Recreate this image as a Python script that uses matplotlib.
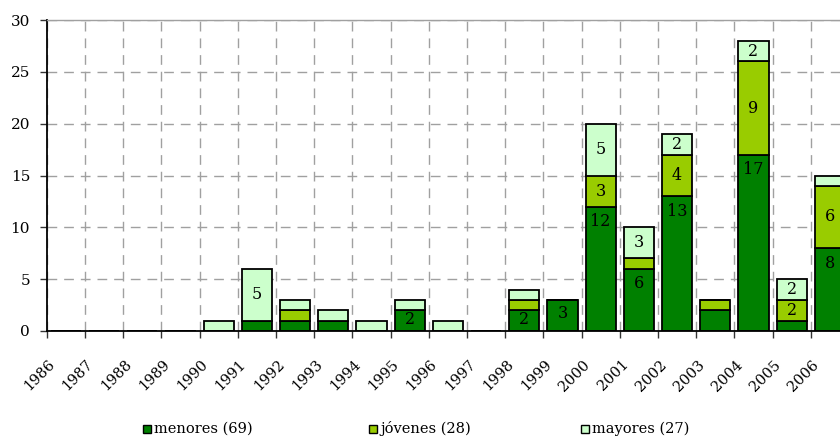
import matplotlib
matplotlib.use("Agg")
import matplotlib.pyplot as plt
from matplotlib.patches import Rectangle
from matplotlib.transforms import ScaledTranslation
import numpy as np

years = [str(y) for y in range(1986, 2007)]
menores = [0, 0, 0, 0, 0, 1, 1, 1, 0, 2, 0, 0, 2, 3, 12, 6, 13, 2, 17, 1, 8]
jovenes = [0, 0, 0, 0, 0, 0, 1, 0, 0, 0, 0, 0, 1, 0, 3, 1, 4, 1, 9, 2, 6]
mayores = [0, 0, 0, 0, 1, 5, 1, 1, 1, 1, 1, 0, 1, 0, 5, 3, 2, 0, 2, 2, 1]
series_names = ["menores", "jóvenes", "mayores"]
legend_labels = ["menores (69)", "jóvenes (28)", "mayores (27)"]
hidden_labels = {("menores", "2003")}
y_ticks = [0, 5, 10, 15, 20, 25, 30]

colors = ["#008000", "#99CC00", "#CCFFCC"]

plt.rcParams['font.family'] = ['DejaVu Serif']

W, H = 840, 447
fig = plt.figure(figsize=(W / 100, H / 100), dpi=100)
left_px, right_px, top_px, bot_px = 46.7, 849.0, 20.0, 331.0
ax = fig.add_axes([left_px / W, 1 - bot_px / H, (right_px - left_px) / W, (bot_px - top_px) / H])

x = np.arange(len(years))
bw = 0.79
data = [menores, jovenes, mayores]
bottom = np.zeros(len(years))
for name, vals, col in zip(series_names, data, colors):
    vals = np.array(vals, dtype=float)
    ax.bar(x, vals, bw, bottom=bottom, color=col, edgecolor="black",
           linewidth=1.3, zorder=3)
    for i, v in enumerate(vals):
        if v < 2 or (name, years[i]) in hidden_labels:
            continue
        top = bottom[i] + v
        if name == "menores":
            yy = top - 1.45 if v >= 4 else top / 2 + 0.15
        else:
            yy = bottom[i] + v / 2
        ax.text(x[i], yy, str(int(v)), ha="center", va="center",
                fontsize=11.5, color="black", zorder=4)
    bottom = bottom + vals

ax.set_xlim(-0.5, len(years) - 0.5)
ax.set_ylim(0, 30)
ax.set_yticks(y_ticks)
ax.set_yticklabels([str(t) for t in y_ticks], fontsize=11)

ax.set_xticks(x)
ax.set_xticklabels(years, fontsize=10.5, rotation=45, ha="right", va="top")
ax.set_xticks(np.arange(-0.5, len(years)), minor=True)
ax.tick_params(axis="x", which="major", length=0, pad=19)
ax.tick_params(axis="x", which="minor", length=5, width=1.0, color="#333333", direction="out")
ax.tick_params(axis="y", length=5, width=1.0, pad=7, color="#333333")
off = ScaledTranslation(-8 / 100, 0, fig.dpi_scale_trans)
for lab in ax.get_xticklabels():
    lab.set_transform(lab.get_transform() + off)

ax.grid(True, which="minor", axis="x", color="#a0a0a0", linestyle=(0, (7, 5)), linewidth=1.0, zorder=1)
ax.grid(True, which="major", axis="y", color="#a0a0a0", linestyle=(0, (7, 5)), linewidth=1.0, zorder=1)
ax.grid(False, which="major", axis="x")

ax.spines["left"].set_color("black")
ax.spines["left"].set_linewidth(1.3)
ax.spines["bottom"].set_color("black")
ax.spines["bottom"].set_linewidth(1.3)
ax.spines["bottom"].set_zorder(5)
ax.spines["top"].set_color("#a0a0a0")
ax.spines["top"].set_linewidth(1.0)
ax.spines["right"].set_visible(False)

# legend (manual)
sq_x = [142.7, 368.7, 580.7]
txt_x = [154.5, 380.5, 592.5]
cy = 429.0
sq = 7.8
for col, lab, sx, tx in zip(colors, legend_labels, sq_x, txt_x):
    fig.add_artist(Rectangle((sx / W, 1 - (cy + sq / 2) / H), sq / W, sq / H,
                             transform=fig.transFigure, facecolor=col,
                             edgecolor="black", linewidth=1.0))
    fig.text(tx / W, 1 - cy / H, lab, ha="left", va="center", fontsize=10.5)

fig.savefig("out.png", dpi=100)
